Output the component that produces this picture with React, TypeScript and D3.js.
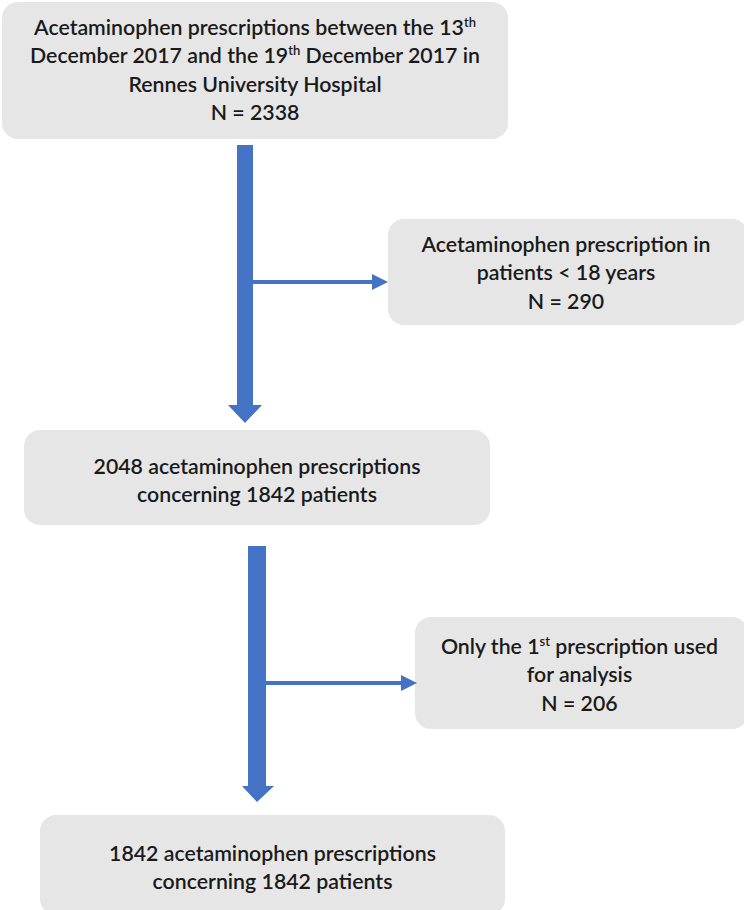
import React, { useEffect, useRef } from 'react';
import * as d3 from 'd3';

// flowchart content: each box is a list of lines made of text parts
type Part = { t: string; sup?: boolean };
const mainBoxes: Part[][][] = [
  [
    [{ t: 'Acetaminophen prescriptions between the 13' }, { t: 'th', sup: true }],
    [{ t: 'December 2017 and the 19' }, { t: 'th', sup: true }, { t: ' December 2017 in' }],
    [{ t: 'Rennes University Hospital' }],
    [{ t: 'N = 2338' }],
  ],
  [[{ t: '2048 acetaminophen prescriptions' }], [{ t: 'concerning 1842 patients' }]],
  [[{ t: '1842 acetaminophen prescriptions' }], [{ t: 'concerning 1842 patients' }]],
];
const sideBoxes: Part[][][] = [
  [[{ t: 'Acetaminophen prescription in' }], [{ t: 'patients < 18 years' }], [{ t: 'N = 290' }]],
  [
    [{ t: 'Only the 1' }, { t: 'st', sup: true }, { t: ' prescription used' }],
    [{ t: 'for analysis' }],
    [{ t: 'N = 206' }],
  ],
];

const BLUE = '#4472c4';
const FILL = '#e7e6e6';

export default function App() {
  const svgRef = useRef<SVGSVGElement>(null);

  useEffect(() => {
    if (!svgRef.current) return;
    const svg = d3.select(svgRef.current);
    svg.selectAll('*').remove();

    const mainRects = [
      { x: 2, y: 2, w: 506, h: 137 },
      { x: 24, y: 430, w: 466, h: 95 },
      { x: 40, y: 815, w: 465, h: 100 },
    ];
    const sideRects = [
      { x: 388, y: 219, w: 360, h: 106 },
      { x: 415, y: 617, w: 333, h: 112 },
    ];

    const drawBox = (r: { x: number; y: number; w: number; h: number }, lines: Part[][], firstY: number) => {
      const g = svg.append('g');
      g.append('rect')
        .attr('x', r.x)
        .attr('y', r.y)
        .attr('width', r.w)
        .attr('height', r.h)
        .attr('rx', 16)
        .attr('fill', FILL);
      lines.forEach((line, i) => {
        const text = g
          .append('text')
          .attr('x', r.x + r.w / 2 - (r.x + r.w > 744 ? (r.x + r.w - 744) / 2 : 0))
          .attr('y', firstY + i * 28.3)
          .attr('text-anchor', 'middle')
          .attr('font-family', 'Lato, sans-serif')
          .attr('font-size', 21.3)
          .attr('font-weight', 600)
          .attr('fill', '#1a1a1a');
        line.forEach((p) => {
          const ts = text.append('tspan').text(p.t);
          if (p.sup) ts.attr('font-size', 13).attr('dy', -8);
          else if (text.selectAll('tspan').size() > 1) ts.attr('dy', 8);
        });
      });
    };

    drawBox(mainRects[0], mainBoxes[0], 35);
    drawBox(mainRects[1], mainBoxes[1], 474);
    drawBox(mainRects[2], mainBoxes[2], 861);
    drawBox(sideRects[0], sideBoxes[0], 252);
    drawBox(sideRects[1], sideBoxes[1], 654);

    // block arrows down with a side branch
    const arrows = [
      { x0: 237, x1: 253, top: 145, headTop: 405, tip: 423, hx0: 228, hx1: 262, branchY: 282, branchTip: 388 },
      { x0: 248, x1: 266, top: 546, headTop: 786, tip: 802, hx0: 242, hx1: 274, branchY: 683, branchTip: 417 },
    ];
    const line = d3.line();
    arrows.forEach((a) => {
      const cx = (a.x0 + a.x1) / 2;
      svg
        .append('path')
        .attr(
          'd',
          line([
            [a.x0, a.top],
            [a.x1, a.top],
            [a.x1, a.headTop],
            [a.hx1, a.headTop],
            [cx, a.tip],
            [a.hx0, a.headTop],
            [a.x0, a.headTop],
          ]) + 'Z'
        )
        .attr('fill', BLUE);
      svg
        .append('line')
        .attr('x1', a.x1 - 1)
        .attr('x2', a.branchTip - 14)
        .attr('y1', a.branchY)
        .attr('y2', a.branchY)
        .attr('stroke', BLUE)
        .attr('stroke-width', 4);
      svg
        .append('path')
        .attr(
          'd',
          line([
            [a.branchTip - 16, a.branchY - 8],
            [a.branchTip, a.branchY],
            [a.branchTip - 16, a.branchY + 8],
          ]) + 'Z'
        )
        .attr('fill', BLUE);
    });
  }, []);

  return (
    <div style={{ position: 'absolute', left: 0, top: 0 }}>
      <svg ref={svgRef} width={744} height={910} style={{ display: 'block', background: '#fff' }} />
    </div>
  );
}
